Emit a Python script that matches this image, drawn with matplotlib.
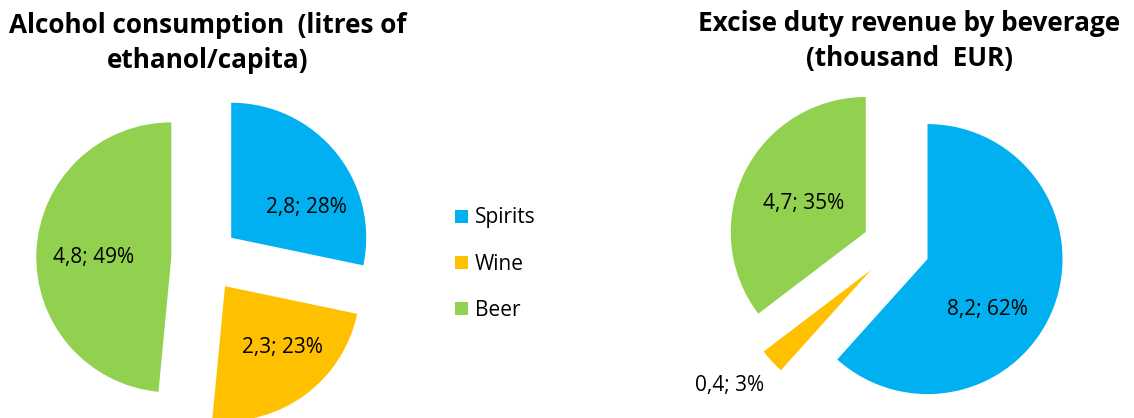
import matplotlib
matplotlib.use("Agg")
import matplotlib.pyplot as plt
import numpy as np

categories = ["Spirits", "Wine", "Beer"]
consumption = [2.8, 2.3, 4.8]
consumption_pct = [28, 23, 49]
revenue = [8.2, 0.4, 4.7]
revenue_pct = [62, 3, 35]
colors = ["#00B0F0", "#FFC000", "#92D050"]

plt.rcParams['font.family'] = ['Open Sans', 'DejaVu Sans']

W, H = 1134, 418
fig = plt.figure(figsize=(W / 100, H / 100), dpi=100)
ax = fig.add_axes([0, 0, 1, 1])

R = 135
explode = [0.25 * R] * 3

def fmt(v):
    return f"{v:.1f}".replace('.', ',')

# left pie
cL = (205, H - 259)
wL, _ = ax.pie(consumption, colors=colors, startangle=90, counterclock=False,
               radius=R, center=cL, explode=explode, frame=True,
               wedgeprops=dict(linewidth=0))
# right pie
cR = (896, H - 247)
wR, _ = ax.pie(revenue, colors=colors, startangle=90, counterclock=False,
               radius=R, center=cR, explode=explode, frame=True,
               wedgeprops=dict(linewidth=0))
ax.set_xlim(0, W)
ax.set_ylim(0, H)
ax.set_aspect('equal')
ax.axis('off')

# label offsets (pixels from pie centre)
offL = [(101, 51), (77, -89), (-111, 2)]
offR = [(91, -63), (-166, -139), (-92, 43)]
for v, p, o in zip(consumption, consumption_pct, offL):
    ax.text(cL[0] + o[0], cL[1] + o[1], f"{fmt(v)}; {p}%", ha='center', va='center',
            fontsize=15, color='#000000')
for v, p, o in zip(revenue, revenue_pct, offR):
    ax.text(cR[0] + o[0], cR[1] + o[1], f"{fmt(v)}; {p}%", ha='center', va='center',
            fontsize=15, color='#000000')

# titles
fig.text(208 / W, 1 - 43 / H, "Alcohol consumption  (litres of\nethanol/capita)",
         ha='center', va='center', fontsize=18.8, fontweight='bold', linespacing=1.36)
fig.text(909 / W, 1 - 41 / H, "Excise duty revenue by beverage\n(thousand  EUR)",
         ha='center', va='center', fontsize=18.8, fontweight='bold', linespacing=1.36)

leg = fig.legend(wL, categories, loc='center left', bbox_to_anchor=(455 / W, 1 - 264 / H),
                 frameon=False, fontsize=15, handlelength=0.6, handleheight=0.6,
                 handletextpad=0.35, labelspacing=1.2, borderpad=0, borderaxespad=0)

fig.savefig("out.png", dpi=100)
